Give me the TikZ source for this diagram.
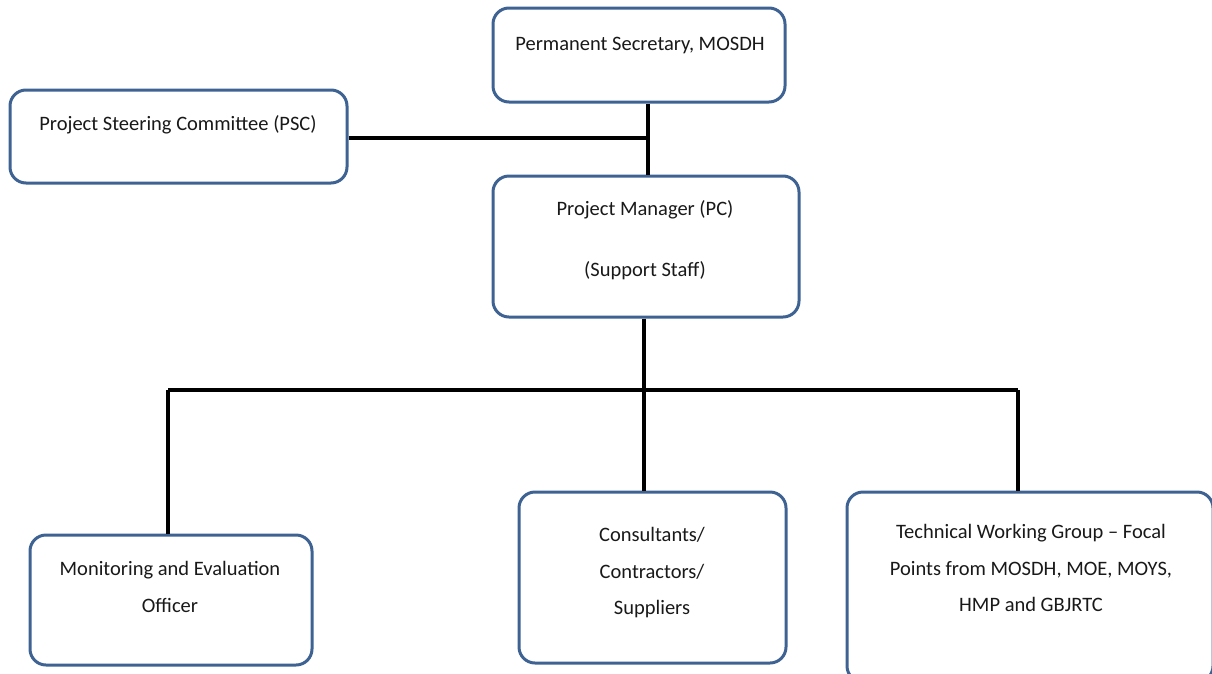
\documentclass[tikz,border=0pt]{standalone}
\usepackage{fontspec}
\setmainfont{Carlito}
\definecolor{boxblue}{RGB}{62,98,146}
\tikzset{
  orgbox/.style={draw=boxblue, line width=3pt, rounded corners=16pt, fill=white, inner sep=0pt},
  orgtext/.style={font=\fontsize{20.5}{36.5}\selectfont, align=center, inner sep=0pt, text=black!90},
  link/.style={draw=black, line width=3.5pt}
}
\begin{document}
\begin{tikzpicture}[x=1pt, y=-1pt]
\useasboundingbox (0,0) rectangle (1212,673);
\begin{scope}
\clip (0,0) rectangle (1212,673);
% boxes
\node[orgbox, minimum width=292pt, minimum height=94pt] (ps) at (639,55) {};
\node[orgbox, minimum width=337pt, minimum height=93pt] (psc) at (178.5,136.5) {};
\node[orgbox, minimum width=306pt, minimum height=141pt] (pm) at (646,246.5) {};
\node[orgbox, minimum width=282pt, minimum height=130pt] (me) at (171,600) {};
\node[orgbox, minimum width=267pt, minimum height=171pt] (con) at (652.5,577.5) {};
\node[orgbox, minimum width=366pt, minimum height=190pt] (twg) at (1030,587) {};
% texts
\node[orgtext] (psT) at (640,45) {Permanent Secretary, MOSDH};
\node[orgtext] (pscT) at (178,125) {Project Steering Committee (PSC)};
\node[orgtext, font=\fontsize{20.5}{61}\selectfont] (pmT) at (645,240) {Project Manager (PC)\\(Support Staff)};
\node[orgtext] (meT) at (170,587) {Monitoring and Evaluation\\Officer};
\node[orgtext] (conT) at (652,573) {Consultants/\\Contractors/\\Suppliers};
\node[orgtext] (twgT) at (1031,568) {Technical Working Group -- Focal\\Points from MOSDH, MOE, MOYS,\\HMP and GBJRTC};
% connectors
\coordinate (j2) at (648,138);
\coordinate (hub) at (644,390);
\draw[link] (648,0 |- ps.south) -- (648,0 |- pm.north);
\draw[link] (psc.east |- j2) -- (j2);
\draw[link] (644,0 |- pm.south) -- (hub);
\draw[link] (168,390) -- (1018,390);
\draw[link] (168,390) -- (168,0 |- me.north);
\draw[link] (hub) -- (644,0 |- con.north);
\draw[link] (1018,390) -- (1018,0 |- twg.north);
\end{scope}
\end{tikzpicture}
\end{document}
